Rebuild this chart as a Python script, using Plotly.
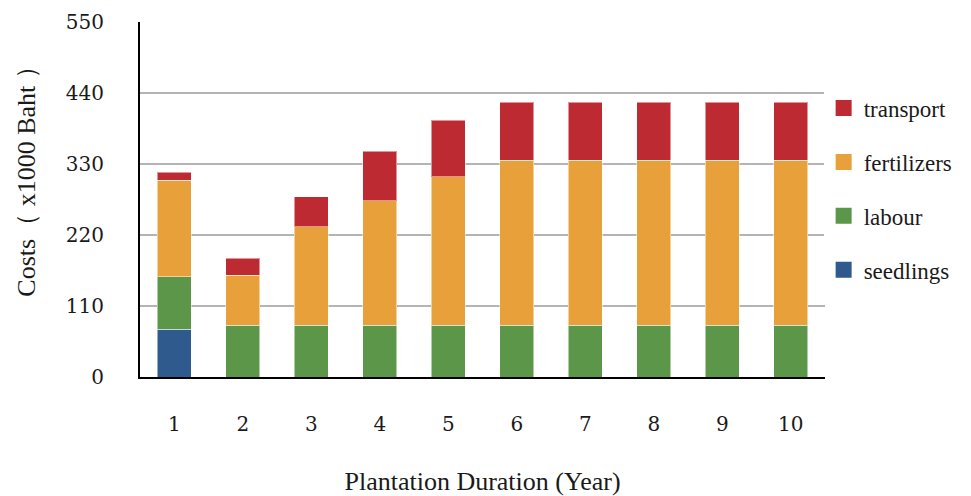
import plotly.graph_objects as go

years = ["1", "2", "3", "4", "5", "6", "7", "8", "9", "10"]
seedlings = [74, 0, 0, 0, 0, 0, 0, 0, 0, 0]
labour = [81, 80, 80, 80, 80, 80, 80, 80, 80, 80]
fertilizers = [150, 78, 153, 193, 230, 256, 256, 256, 256, 256]
transport = [12, 26, 46, 77, 88, 90, 90, 90, 90, 90]

series = [
    ("seedlings", seedlings, "#2E5A8E"),
    ("labour", labour, "#5B9649"),
    ("fertilizers", fertilizers, "#E8A03B"),
    ("transport", transport, "#BE2A31"),
]

fig = go.Figure()
n = len(series)
for i, (name, vals, col) in enumerate(series):
    fig.add_trace(go.Bar(
        x=years, y=vals, name=name, legendgroup=name, showlegend=False,
        marker=dict(color=col, line=dict(color="rgba(255,255,255,0.5)", width=1)),
    ))
    # legend entry with a larger square swatch
    fig.add_trace(go.Scatter(
        x=[None], y=[None], mode="markers", name=name, legendgroup=name,
        legendrank=n - i, showlegend=True, hoverinfo="skip",
        marker=dict(symbol="square", size=20, color=col),
    ))

serif = "Liberation Serif, Times New Roman, serif"
wide = "DejaVu Serif, serif"
ink = "#1a1a1a"
fig.update_layout(
    width=963, height=488,
    margin=dict(l=132, r=146, t=14, b=119),
    barmode="stack", bargap=0.5,
    plot_bgcolor="white", paper_bgcolor="white",
    font=dict(family=serif, color=ink),
    legend=dict(
        x=0.998, y=0.818, xanchor="left", yanchor="top",
        traceorder="grouped", tracegroupgap=21, itemsizing="trace",
        font=dict(family=serif, size=23, color=ink),
        itemwidth=30, borderwidth=0,
    ),
    xaxis=dict(
        automargin=False,
        showline=True, linecolor="black", linewidth=2,
        ticks="", tickfont=dict(family=wide, size=20, color=ink),
        ticklabelstandoff=28,
        title=dict(text="Plantation Duration (Year)", font=dict(family=serif, size=26, color=ink), standoff=38),
    ),
    yaxis=dict(
        automargin=False,
        range=[0, 550], tickvals=[0, 110, 220, 330, 440, 550],
        showline=True, linecolor="black", linewidth=2,
        showgrid=True, gridcolor="#B4B4B4", gridwidth=2,
        zeroline=False, ticks="",
        tickfont=dict(family=wide, size=20, color=ink),
        ticklabelstandoff=30,
    ),
    annotations=[dict(
        text="Costs（ x1000 Baht ）", textangle=-90,
        xref="paper", yref="paper", x=-0.165, y=0.57,
        xanchor="center", yanchor="middle", showarrow=False,
        font=dict(family=serif, size=26, color=ink),
    )],
)

fig.write_html("out.html")
